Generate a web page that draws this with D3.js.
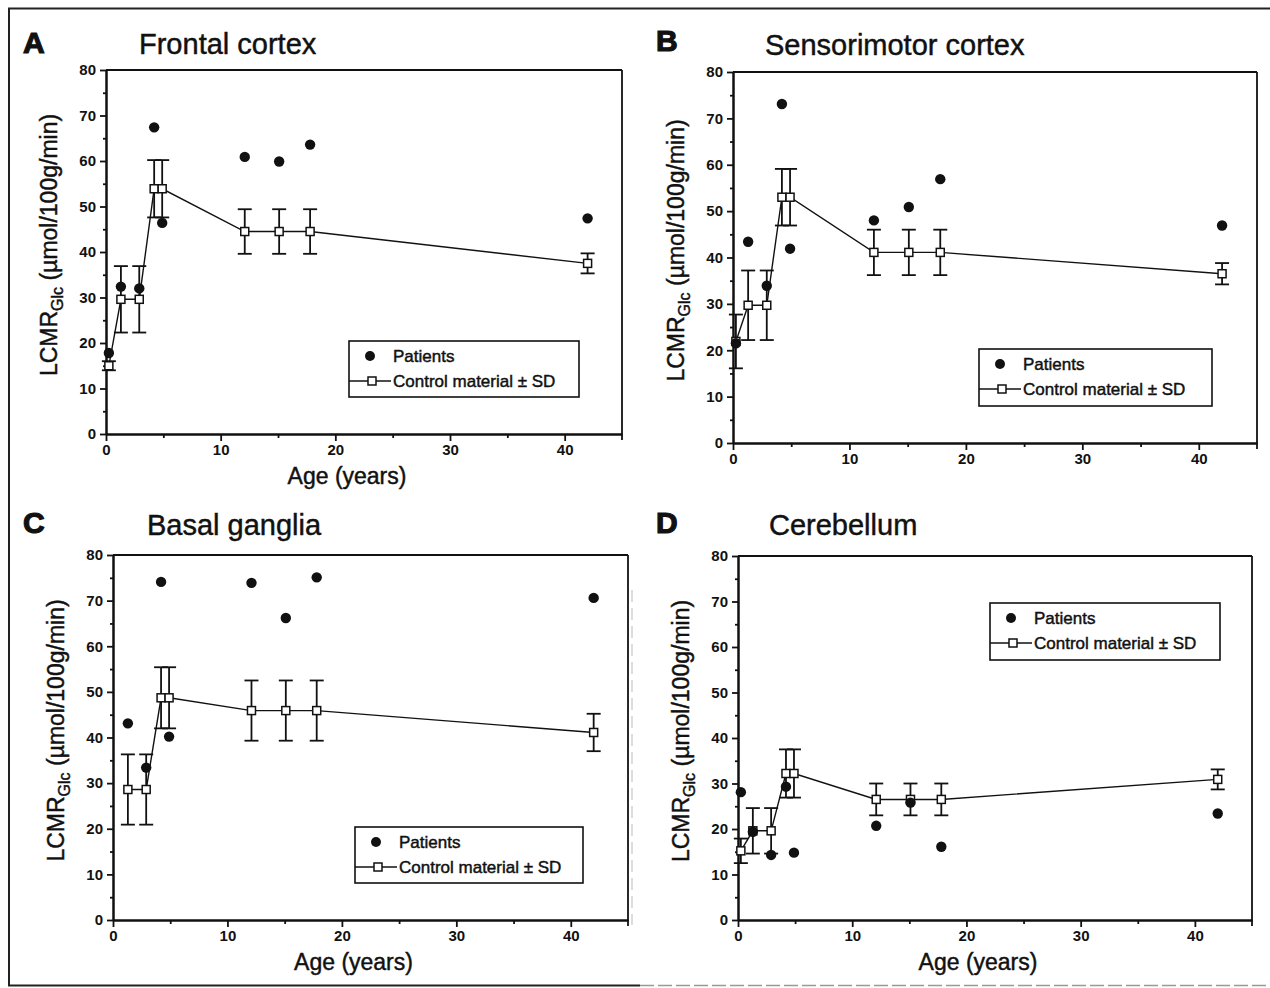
<!DOCTYPE html>
<html>
<head>
<meta charset="utf-8">
<script src="https://cdn.jsdelivr.net/npm/d3@7"></script>
<style>
  body { margin: 0; background: #fff; }
  svg text { font-family: "Liberation Sans", Arial, sans-serif; fill: #111; }
  .heavy { stroke: #111; stroke-width: 0.45px; }
</style>
</head>
<body>
<svg id="fig" width="1270" height="988"></svg>
<script>
/* ------------------------- DATA ------------------------- */

// age (years) of each control group / patient, same for every region
const ages = [0.25, 1.3, 2.9, 4.2, 4.9, 12.1, 15.1, 17.8, 42.0]

const xTicks = [0, 10, 20, 30, 40]
const yTicks = [0, 10, 20, 30, 40, 50, 60, 70, 80]

const frontalControl = [15.0, 29.6, 29.6, 53.9, 53.9, 44.5, 44.5, 44.5, 37.5]
const frontalSD = [1.0, 7.3, 7.3, 6.3, 6.3, 4.9, 4.9, 4.9, 2.2]
const frontalPatients = [17.8, 32.4, 32.0, 67.4, 46.4, 60.9, 59.9, 63.6, 47.4]

const sensoriControl = [21.9, 29.7, 29.7, 53.0, 53.0, 41.1, 41.1, 41.1, 36.5]
const sensoriSD = [5.8, 7.5, 7.5, 6.1, 6.1, 4.9, 4.9, 4.9, 2.3]
const sensoriPatients = [21.5, 43.4, 33.9, 73.1, 41.9, 48.0, 50.9, 56.9, 46.9]

const basalControl = [null, 28.6, 28.6, 48.7, 48.7, 45.9, 45.9, 45.9, 41.1]
const basalSD = [null, 7.7, 7.7, 6.7, 6.7, 6.6, 6.6, 6.6, 4.1]
const basalPatients = [null, 43.1, 33.4, 74.1, 40.2, 73.9, 66.2, 75.1, 70.6]

const cerebControl = [15.2, 19.6, 19.6, 32.2, 32.2, 26.5, 26.5, 26.5, 30.9]
const cerebSD = [2.7, 5.0, 5.0, 5.3, 5.3, 3.5, 3.5, 3.5, 2.2]
const cerebPatients = [28.1, 19.4, 14.3, 29.3, 14.8, 20.7, 25.8, 16.1, 23.4]

/* ------------------------- LAYOUT ------------------------- */

const panels = [
    { letter: 'A', title: 'Frontal cortex', control: frontalControl, sd: frontalSD, patients: frontalPatients,
      left: 106, right: 622, top: 70, bottom: 434, letterX: 23, letterY: 53, titleX: 139, titleY: 54,
      xLabel: true, legend: { x: 349, y: 341, w: 230, h: 56 } },
    { letter: 'B', title: 'Sensorimotor cortex', control: sensoriControl, sd: sensoriSD, patients: sensoriPatients,
      left: 733, right: 1257, top: 72, bottom: 443, letterX: 656, letterY: 51, titleX: 765, titleY: 55,
      xLabel: false, legend: { x: 979, y: 349, w: 233, h: 57 } },
    { letter: 'C', title: 'Basal ganglia', control: basalControl, sd: basalSD, patients: basalPatients,
      left: 113, right: 628, top: 555, bottom: 920, letterX: 23, letterY: 533, titleX: 147, titleY: 535,
      xLabel: true, legend: { x: 355, y: 827, w: 228, h: 56 } },
    { letter: 'D', title: 'Cerebellum', control: cerebControl, sd: cerebSD, patients: cerebPatients,
      left: 738, right: 1252, top: 556, bottom: 920, letterX: 656, letterY: 533, titleX: 769, titleY: 535,
      xLabel: true, legend: { x: 990, y: 603, w: 230, h: 57 } },
]

const svg = d3.select('#fig')

/* ----- outer frame of the figure ----- */
svg.append('line').attr('x1', 8).attr('x2', 1270).attr('y1', 8.5).attr('y2', 8.5)
    .attr('stroke', '#222').attr('stroke-width', 2)
svg.append('line').attr('x1', 9).attr('x2', 9).attr('y1', 8).attr('y2', 986)
    .attr('stroke', '#222').attr('stroke-width', 2)
svg.append('line').attr('x1', 8).attr('x2', 640).attr('y1', 985.5).attr('y2', 985.5)
    .attr('stroke', '#222').attr('stroke-width', 2)
svg.append('line').attr('x1', 640).attr('x2', 1270).attr('y1', 985.5).attr('y2', 985.5)
    .attr('stroke', '#999').attr('stroke-width', 1.5).attr('stroke-dasharray', '14,4')
svg.append('line').attr('x1', 632).attr('x2', 632).attr('y1', 590).attr('y2', 925)
    .attr('stroke', '#bbb').attr('stroke-width', 1).attr('stroke-dasharray', '12,6')

function drawPanel(p) {
    let x = d3.scaleLinear().domain([0, 45]).range([p.left, p.right])
    let y = d3.scaleLinear().domain([0, 80]).range([p.bottom, p.top])
    let g = svg.append('g')

    /* ----- letter + title ----- */
    g.append('text').attr('x', p.letterX).attr('y', p.letterY)
        .style('font-size', '30px').style('font-weight', 'bold')
        .style('stroke', '#111').style('stroke-width', '1.2px').text(p.letter)
    g.append('text').attr('class', 'heavy').attr('x', p.titleX).attr('y', p.titleY)
        .style('font-size', '29px').text(p.title)

    /* ----- frame (top + right) ----- */
    g.append('line').attr('x1', p.left).attr('x2', p.right).attr('y1', p.top).attr('y2', p.top)
        .attr('stroke', '#111').attr('stroke-width', 1.8)
    g.append('line').attr('x1', p.right).attr('x2', p.right).attr('y1', p.top).attr('y2', p.bottom + 6)
        .attr('stroke', '#111').attr('stroke-width', 1.8)

    /* ----- axes ----- */
    let yMinor = g.append('g').attr('transform', 'translate(' + p.left + ',0)')
        .call(d3.axisLeft(y).tickValues(d3.range(5, 80, 10)).tickSize(3).tickSizeOuter(0).tickFormat(''))
    let yAxis = g.append('g').attr('transform', 'translate(' + p.left + ',0)')
        .call(d3.axisLeft(y).tickValues(yTicks).tickSize(6).tickPadding(4).tickSizeOuter(0))
    let xMinor = g.append('g').attr('transform', 'translate(0,' + p.bottom + ')')
        .call(d3.axisBottom(x).tickValues([5, 15, 25, 35]).tickSize(4).tickSizeOuter(0).tickFormat(''))
    let xAxis = g.append('g').attr('transform', 'translate(0,' + p.bottom + ')')
        .call(d3.axisBottom(x).tickValues(xTicks).tickSize(7).tickPadding(3).tickSizeOuter(0))

    for (let ax of [yMinor, yAxis, xMinor, xAxis]) {
        ax.select('.domain').attr('stroke', '#111').attr('stroke-width', 2)
        ax.selectAll('.tick line').attr('stroke', '#111').attr('stroke-width', 1.8)
        ax.selectAll('.tick text').style('font-size', '15px').style('font-weight', 'bold')
            .style('font-family', '"Liberation Sans", Arial, sans-serif').attr('fill', '#111')
    }

    /* ----- axis titles ----- */
    let yl = g.append('text').attr('class', 'heavy')
        .attr('transform', 'translate(' + (p.left - 49) + ',' + ((p.top + p.bottom) / 2 - 7) + ') rotate(-90)')
        .attr('text-anchor', 'middle').style('font-size', '23px')
    yl.append('tspan').text('LCMR')
    yl.append('tspan').attr('dy', 6).style('font-size', '16px').text('Glc')
    yl.append('tspan').attr('dy', -6).text(' (\u00b5mol/100g/min)')

    if (p.xLabel) {
        g.append('text').attr('class', 'heavy').attr('x', (p.left + p.right) / 2 - 17).attr('y', p.bottom + 50)
            .attr('text-anchor', 'middle').style('font-size', '23px').text('Age (years)')
    }

    /* ----- control line + error bars ----- */
    let ctrl = ages.map((a, i) => ({ age: a, v: p.control[i], sd: p.sd[i] })).filter(d => d.v != null)
    let pats = ages.map((a, i) => ({ age: a, v: p.patients[i] })).filter(d => d.v != null)

    g.append('path').datum(ctrl)
        .attr('d', d3.line().x(d => x(d.age)).y(d => y(d.v)))
        .attr('fill', 'none').attr('stroke', '#111').attr('stroke-width', 1.4)

    let eb = g.selectAll('.err').data(ctrl).enter().append('g')
    eb.append('line').attr('x1', d => x(d.age)).attr('x2', d => x(d.age))
        .attr('y1', d => y(d.v + d.sd)).attr('y2', d => y(d.v - d.sd))
        .attr('stroke', '#111').attr('stroke-width', 1.8)
    for (let sign of [1, -1]) {
        eb.append('line').attr('x1', d => x(d.age) - 7).attr('x2', d => x(d.age) + 7)
            .attr('y1', d => y(d.v + sign * d.sd)).attr('y2', d => y(d.v + sign * d.sd))
            .attr('stroke', '#111').attr('stroke-width', 1.8)
    }

    g.selectAll('.sq').data(ctrl).enter().append('rect')
        .attr('x', d => x(d.age) - 4).attr('y', d => y(d.v) - 4)
        .attr('width', 8).attr('height', 8)
        .attr('fill', '#fff').attr('stroke', '#111').attr('stroke-width', 1.5)

    /* ----- patients ----- */
    g.selectAll('.pt').data(pats).enter().append('circle')
        .attr('cx', d => x(d.age)).attr('cy', d => y(d.v)).attr('r', 5.2).attr('fill', '#111')

    /* ----- legend ----- */
    let L = p.legend
    let lg = g.append('g').attr('transform', 'translate(' + L.x + ',' + L.y + ')')
    lg.append('rect').attr('width', L.w).attr('height', L.h)
        .attr('fill', '#fff').attr('stroke', '#111').attr('stroke-width', 1.6)
    lg.append('circle').attr('cx', 21).attr('cy', 15).attr('r', 5).attr('fill', '#111')
    lg.append('text').attr('class', 'heavy').attr('x', 44).attr('y', 21).style('font-size', '17px').text('Patients')
    lg.append('line').attr('x1', 0).attr('x2', 42).attr('y1', 40).attr('y2', 40)
        .attr('stroke', '#111').attr('stroke-width', 1.3)
    lg.append('rect').attr('x', 19).attr('y', 36).attr('width', 8).attr('height', 8)
        .attr('fill', '#fff').attr('stroke', '#111').attr('stroke-width', 1.5)
    lg.append('text').attr('class', 'heavy').attr('x', 44).attr('y', 46).style('font-size', '17px')
        .text('Control material \u00b1 SD')
}

panels.forEach(drawPanel)
</script>
</body>
</html>
